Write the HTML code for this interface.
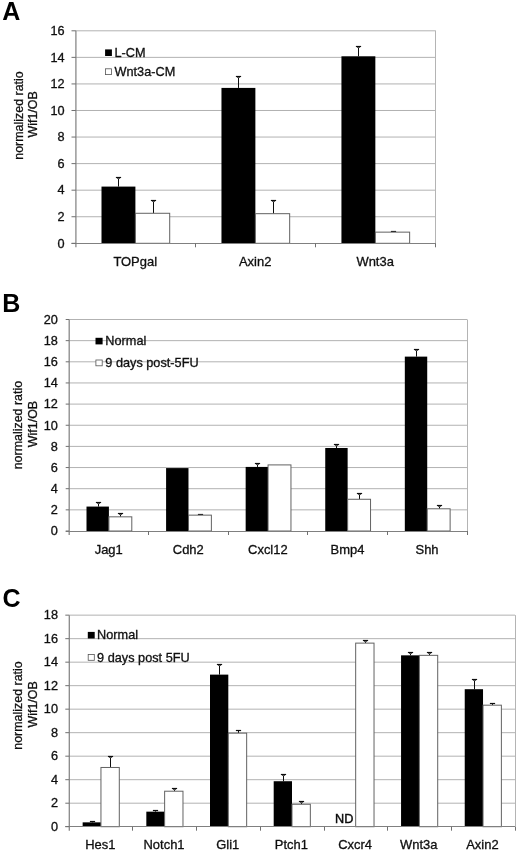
<!DOCTYPE html>
<html><head><meta charset="utf-8"><title>Figure</title>
<style>
html,body{margin:0;padding:0;background:#fff;}
body{width:520px;height:853px;overflow:hidden;}
svg{display:block;font-family:"Liberation Sans", sans-serif;}
</style></head>
<body>
<svg width="520" height="853" viewBox="0 0 520 853">
<defs><filter id="soft" x="0" y="0" width="520" height="853" filterUnits="userSpaceOnUse"><feGaussianBlur stdDeviation="0.4"/></filter></defs>
<rect x="0" y="0" width="520" height="853" fill="#fff"/>
<g filter="url(#soft)">
<rect x="0" y="0" width="520" height="853" fill="#fff"/>
<g id="panelA">
<line x1="75.90" y1="216.74" x2="435.81" y2="216.74" stroke="#b2b2b2" stroke-width="1"/>
<line x1="75.90" y1="190.18" x2="435.81" y2="190.18" stroke="#b2b2b2" stroke-width="1"/>
<line x1="75.90" y1="163.61" x2="435.81" y2="163.61" stroke="#b2b2b2" stroke-width="1"/>
<line x1="75.90" y1="137.05" x2="435.81" y2="137.05" stroke="#b2b2b2" stroke-width="1"/>
<line x1="75.90" y1="110.49" x2="435.81" y2="110.49" stroke="#b2b2b2" stroke-width="1"/>
<line x1="75.90" y1="83.93" x2="435.81" y2="83.93" stroke="#b2b2b2" stroke-width="1"/>
<line x1="75.90" y1="57.36" x2="435.81" y2="57.36" stroke="#b2b2b2" stroke-width="1"/>
<line x1="75.90" y1="30.80" x2="435.81" y2="30.80" stroke="#b2b2b2" stroke-width="1"/>
<line x1="435.50" y1="30.80" x2="435.50" y2="243.30" stroke="#b4b4b4" stroke-width="1"/>
<rect x="105.10" y="49.40" width="6.8" height="6.6" fill="#000"/>
<rect x="105.50" y="68.80" width="6.0" height="5.8" fill="#fff" stroke="#555" stroke-width="0.8"/>
<text transform="translate(114.50,56.90) scale(1.06,1)" font-size="12" text-anchor="start" fill="#111" stroke="#111" stroke-width="0.3">L-CM</text>
<text transform="translate(114.50,75.90) scale(1.06,1)" font-size="12" text-anchor="start" fill="#111" stroke="#111" stroke-width="0.3">Wnt3a-CM</text>
<line x1="118.50" y1="186.59" x2="118.50" y2="177.50" stroke="#111" stroke-width="1.05"/><line x1="115.90" y1="177.50" x2="121.10" y2="177.50" stroke="#111" stroke-width="1.2"/><line x1="117.00" y1="178.50" x2="120.00" y2="178.50" stroke="#555" stroke-width="1"/>
<rect x="101.50" y="186.59" width="33.90" height="56.71" fill="#000"/>
<line x1="153.50" y1="213.28" x2="153.50" y2="200.50" stroke="#111" stroke-width="1.05"/><line x1="150.90" y1="200.50" x2="156.10" y2="200.50" stroke="#111" stroke-width="1.2"/><line x1="152.00" y1="201.50" x2="155.00" y2="201.50" stroke="#555" stroke-width="1"/>
<rect x="135.40" y="213.28" width="34.30" height="30.02" fill="#fff" stroke="#626262" stroke-width="1"/>
<text transform="translate(135.19,265.70) scale(1.08,1)" font-size="12" text-anchor="middle" fill="#111" stroke="#111" stroke-width="0.3">TOPgal</text>
<line x1="238.50" y1="87.91" x2="238.50" y2="76.50" stroke="#111" stroke-width="1.05"/><line x1="235.90" y1="76.50" x2="241.10" y2="76.50" stroke="#111" stroke-width="1.2"/><line x1="237.00" y1="77.50" x2="240.00" y2="77.50" stroke="#555" stroke-width="1"/>
<rect x="221.47" y="87.91" width="33.90" height="155.39" fill="#000"/>
<line x1="273.50" y1="213.68" x2="273.50" y2="200.50" stroke="#111" stroke-width="1.05"/><line x1="270.90" y1="200.50" x2="276.10" y2="200.50" stroke="#111" stroke-width="1.2"/><line x1="272.00" y1="201.50" x2="275.00" y2="201.50" stroke="#555" stroke-width="1"/>
<rect x="255.37" y="213.68" width="34.30" height="29.62" fill="#fff" stroke="#626262" stroke-width="1"/>
<text transform="translate(255.16,265.70) scale(1.08,1)" font-size="12" text-anchor="middle" fill="#111" stroke="#111" stroke-width="0.3">Axin2</text>
<line x1="358.50" y1="56.30" x2="358.50" y2="46.50" stroke="#111" stroke-width="1.05"/><line x1="355.90" y1="46.50" x2="361.10" y2="46.50" stroke="#111" stroke-width="1.2"/><line x1="357.00" y1="47.50" x2="360.00" y2="47.50" stroke="#555" stroke-width="1"/>
<rect x="341.44" y="56.30" width="33.90" height="187.00" fill="#000"/>
<line x1="393.50" y1="232.14" x2="393.50" y2="231.50" stroke="#111" stroke-width="1.05"/><line x1="390.90" y1="231.50" x2="396.10" y2="231.50" stroke="#111" stroke-width="1.2"/>
<rect x="375.34" y="232.14" width="34.30" height="11.16" fill="#fff" stroke="#626262" stroke-width="1"/>
<text transform="translate(375.13,265.70) scale(1.08,1)" font-size="12" text-anchor="middle" fill="#111" stroke="#111" stroke-width="0.3">Wnt3a</text>
<line x1="75.90" y1="30.80" x2="75.90" y2="247.30" stroke="#888888" stroke-width="1.3"/>
<line x1="71.50" y1="243.50" x2="435.81" y2="243.50" stroke="#808080" stroke-width="1"/>
<line x1="71.50" y1="243.30" x2="75.90" y2="243.30" stroke="#707070" stroke-width="1"/>
<text transform="translate(64.60,247.60) scale(1.06,1)" font-size="12" text-anchor="end" fill="#111" stroke="#111" stroke-width="0.3">0</text>
<line x1="71.50" y1="216.74" x2="75.90" y2="216.74" stroke="#707070" stroke-width="1"/>
<text transform="translate(64.60,221.04) scale(1.06,1)" font-size="12" text-anchor="end" fill="#111" stroke="#111" stroke-width="0.3">2</text>
<line x1="71.50" y1="190.18" x2="75.90" y2="190.18" stroke="#707070" stroke-width="1"/>
<text transform="translate(64.60,194.48) scale(1.06,1)" font-size="12" text-anchor="end" fill="#111" stroke="#111" stroke-width="0.3">4</text>
<line x1="71.50" y1="163.61" x2="75.90" y2="163.61" stroke="#707070" stroke-width="1"/>
<text transform="translate(64.60,167.91) scale(1.06,1)" font-size="12" text-anchor="end" fill="#111" stroke="#111" stroke-width="0.3">6</text>
<line x1="71.50" y1="137.05" x2="75.90" y2="137.05" stroke="#707070" stroke-width="1"/>
<text transform="translate(64.60,141.35) scale(1.06,1)" font-size="12" text-anchor="end" fill="#111" stroke="#111" stroke-width="0.3">8</text>
<line x1="71.50" y1="110.49" x2="75.90" y2="110.49" stroke="#707070" stroke-width="1"/>
<text transform="translate(64.60,114.79) scale(1.06,1)" font-size="12" text-anchor="end" fill="#111" stroke="#111" stroke-width="0.3">10</text>
<line x1="71.50" y1="83.93" x2="75.90" y2="83.93" stroke="#707070" stroke-width="1"/>
<text transform="translate(64.60,88.23) scale(1.06,1)" font-size="12" text-anchor="end" fill="#111" stroke="#111" stroke-width="0.3">12</text>
<line x1="71.50" y1="57.36" x2="75.90" y2="57.36" stroke="#707070" stroke-width="1"/>
<text transform="translate(64.60,61.66) scale(1.06,1)" font-size="12" text-anchor="end" fill="#111" stroke="#111" stroke-width="0.3">14</text>
<line x1="71.50" y1="30.80" x2="75.90" y2="30.80" stroke="#707070" stroke-width="1"/>
<text transform="translate(64.60,35.10) scale(1.06,1)" font-size="12" text-anchor="end" fill="#111" stroke="#111" stroke-width="0.3">16</text>
<line x1="195.50" y1="243.30" x2="195.50" y2="247.30" stroke="#707070" stroke-width="1"/>
<line x1="315.50" y1="243.30" x2="315.50" y2="247.30" stroke="#707070" stroke-width="1"/>
<line x1="435.50" y1="243.30" x2="435.50" y2="247.30" stroke="#707070" stroke-width="1"/>
<text transform="translate(22.50,115.50) rotate(-90) scale(1.0,1)" font-size="12.45" text-anchor="middle" fill="#111" stroke="#111" stroke-width="0.3">normalized ratio</text>
<text transform="translate(37.30,114.40) rotate(-90) scale(1.0,1)" font-size="12.45" text-anchor="middle" fill="#111" stroke="#111" stroke-width="0.3">Wif1/OB</text>
<text transform="translate(2.30,19.60) scale(1.0,1)" font-size="25" text-anchor="start" fill="#000" font-weight="bold">A</text>
</g>
<g id="panelB">
<line x1="69.20" y1="509.85" x2="467.10" y2="509.85" stroke="#b2b2b2" stroke-width="1"/>
<line x1="69.20" y1="488.70" x2="467.10" y2="488.70" stroke="#b2b2b2" stroke-width="1"/>
<line x1="69.20" y1="467.55" x2="467.10" y2="467.55" stroke="#b2b2b2" stroke-width="1"/>
<line x1="69.20" y1="446.40" x2="467.10" y2="446.40" stroke="#b2b2b2" stroke-width="1"/>
<line x1="69.20" y1="425.25" x2="467.10" y2="425.25" stroke="#b2b2b2" stroke-width="1"/>
<line x1="69.20" y1="404.10" x2="467.10" y2="404.10" stroke="#b2b2b2" stroke-width="1"/>
<line x1="69.20" y1="382.95" x2="467.10" y2="382.95" stroke="#b2b2b2" stroke-width="1"/>
<line x1="69.20" y1="361.80" x2="467.10" y2="361.80" stroke="#b2b2b2" stroke-width="1"/>
<line x1="69.20" y1="340.65" x2="467.10" y2="340.65" stroke="#b2b2b2" stroke-width="1"/>
<line x1="69.20" y1="319.50" x2="467.10" y2="319.50" stroke="#b2b2b2" stroke-width="1"/>
<line x1="467.50" y1="319.50" x2="467.50" y2="531.00" stroke="#b4b4b4" stroke-width="1"/>
<rect x="95.50" y="337.80" width="7.1" height="6.6" fill="#000"/>
<rect x="95.90" y="360.00" width="6.3" height="5.8" fill="#fff" stroke="#555" stroke-width="0.8"/>
<text transform="translate(105.30,345.30) scale(1.06,1)" font-size="12" text-anchor="start" fill="#111" stroke="#111" stroke-width="0.3">Normal</text>
<text transform="translate(105.30,367.10) scale(1.06,1)" font-size="12" text-anchor="start" fill="#111" stroke="#111" stroke-width="0.3">9 days post-5FU</text>
<line x1="98.50" y1="506.57" x2="98.50" y2="502.50" stroke="#111" stroke-width="1.05"/><line x1="95.90" y1="502.50" x2="101.10" y2="502.50" stroke="#111" stroke-width="1.2"/><line x1="97.00" y1="503.50" x2="100.00" y2="503.50" stroke="#555" stroke-width="1"/>
<rect x="86.50" y="506.57" width="22.40" height="24.43" fill="#000"/>
<line x1="120.50" y1="516.83" x2="120.50" y2="513.50" stroke="#111" stroke-width="1.05"/><line x1="117.90" y1="513.50" x2="123.10" y2="513.50" stroke="#111" stroke-width="1.2"/><line x1="119.00" y1="514.50" x2="122.00" y2="514.50" stroke="#555" stroke-width="1"/>
<rect x="108.90" y="516.83" width="22.90" height="14.17" fill="#fff" stroke="#626262" stroke-width="1"/>
<text transform="translate(108.69,553.50) scale(1.08,1)" font-size="12" text-anchor="middle" fill="#111" stroke="#111" stroke-width="0.3">Jag1</text>
<rect x="166.08" y="468.08" width="22.40" height="62.92" fill="#000"/>
<line x1="200.50" y1="515.14" x2="200.50" y2="514.50" stroke="#111" stroke-width="1.05"/><line x1="197.90" y1="514.50" x2="203.10" y2="514.50" stroke="#111" stroke-width="1.2"/>
<rect x="188.48" y="515.14" width="22.90" height="15.86" fill="#fff" stroke="#626262" stroke-width="1"/>
<text transform="translate(188.27,553.50) scale(1.08,1)" font-size="12" text-anchor="middle" fill="#111" stroke="#111" stroke-width="0.3">Cdh2</text>
<line x1="257.50" y1="466.92" x2="257.50" y2="463.50" stroke="#111" stroke-width="1.05"/><line x1="254.90" y1="463.50" x2="260.10" y2="463.50" stroke="#111" stroke-width="1.2"/><line x1="256.00" y1="464.50" x2="259.00" y2="464.50" stroke="#555" stroke-width="1"/>
<rect x="245.66" y="466.92" width="22.40" height="64.08" fill="#000"/>
<rect x="268.06" y="464.91" width="22.90" height="66.09" fill="#fff" stroke="#626262" stroke-width="1"/>
<text transform="translate(267.85,553.50) scale(1.08,1)" font-size="12" text-anchor="middle" fill="#111" stroke="#111" stroke-width="0.3">Cxcl12</text>
<line x1="336.50" y1="447.99" x2="336.50" y2="444.50" stroke="#111" stroke-width="1.05"/><line x1="333.90" y1="444.50" x2="339.10" y2="444.50" stroke="#111" stroke-width="1.2"/><line x1="335.00" y1="445.50" x2="338.00" y2="445.50" stroke="#555" stroke-width="1"/>
<rect x="325.24" y="447.99" width="22.40" height="83.01" fill="#000"/>
<line x1="359.50" y1="499.27" x2="359.50" y2="493.50" stroke="#111" stroke-width="1.05"/><line x1="356.90" y1="493.50" x2="362.10" y2="493.50" stroke="#111" stroke-width="1.2"/><line x1="358.00" y1="494.50" x2="361.00" y2="494.50" stroke="#555" stroke-width="1"/>
<rect x="347.64" y="499.27" width="22.90" height="31.73" fill="#fff" stroke="#626262" stroke-width="1"/>
<text transform="translate(347.43,553.50) scale(1.08,1)" font-size="12" text-anchor="middle" fill="#111" stroke="#111" stroke-width="0.3">Bmp4</text>
<line x1="416.50" y1="356.62" x2="416.50" y2="349.50" stroke="#111" stroke-width="1.05"/><line x1="413.90" y1="349.50" x2="419.10" y2="349.50" stroke="#111" stroke-width="1.2"/><line x1="415.00" y1="350.50" x2="418.00" y2="350.50" stroke="#555" stroke-width="1"/>
<rect x="404.82" y="356.62" width="22.40" height="174.38" fill="#000"/>
<line x1="439.50" y1="508.79" x2="439.50" y2="505.50" stroke="#111" stroke-width="1.05"/><line x1="436.90" y1="505.50" x2="442.10" y2="505.50" stroke="#111" stroke-width="1.2"/><line x1="438.00" y1="506.50" x2="441.00" y2="506.50" stroke="#555" stroke-width="1"/>
<rect x="427.22" y="508.79" width="22.90" height="22.21" fill="#fff" stroke="#626262" stroke-width="1"/>
<text transform="translate(427.01,553.50) scale(1.08,1)" font-size="12" text-anchor="middle" fill="#111" stroke="#111" stroke-width="0.3">Shh</text>
<line x1="69.20" y1="319.50" x2="69.20" y2="535.00" stroke="#888888" stroke-width="1.3"/>
<line x1="65.70" y1="531.50" x2="467.10" y2="531.50" stroke="#808080" stroke-width="1"/>
<line x1="65.70" y1="531.00" x2="69.20" y2="531.00" stroke="#707070" stroke-width="1"/>
<text transform="translate(57.90,535.30) scale(1.06,1)" font-size="12" text-anchor="end" fill="#111" stroke="#111" stroke-width="0.3">0</text>
<line x1="65.70" y1="509.85" x2="69.20" y2="509.85" stroke="#707070" stroke-width="1"/>
<text transform="translate(57.90,514.15) scale(1.06,1)" font-size="12" text-anchor="end" fill="#111" stroke="#111" stroke-width="0.3">2</text>
<line x1="65.70" y1="488.70" x2="69.20" y2="488.70" stroke="#707070" stroke-width="1"/>
<text transform="translate(57.90,493.00) scale(1.06,1)" font-size="12" text-anchor="end" fill="#111" stroke="#111" stroke-width="0.3">4</text>
<line x1="65.70" y1="467.55" x2="69.20" y2="467.55" stroke="#707070" stroke-width="1"/>
<text transform="translate(57.90,471.85) scale(1.06,1)" font-size="12" text-anchor="end" fill="#111" stroke="#111" stroke-width="0.3">6</text>
<line x1="65.70" y1="446.40" x2="69.20" y2="446.40" stroke="#707070" stroke-width="1"/>
<text transform="translate(57.90,450.70) scale(1.06,1)" font-size="12" text-anchor="end" fill="#111" stroke="#111" stroke-width="0.3">8</text>
<line x1="65.70" y1="425.25" x2="69.20" y2="425.25" stroke="#707070" stroke-width="1"/>
<text transform="translate(57.90,429.55) scale(1.06,1)" font-size="12" text-anchor="end" fill="#111" stroke="#111" stroke-width="0.3">10</text>
<line x1="65.70" y1="404.10" x2="69.20" y2="404.10" stroke="#707070" stroke-width="1"/>
<text transform="translate(57.90,408.40) scale(1.06,1)" font-size="12" text-anchor="end" fill="#111" stroke="#111" stroke-width="0.3">12</text>
<line x1="65.70" y1="382.95" x2="69.20" y2="382.95" stroke="#707070" stroke-width="1"/>
<text transform="translate(57.90,387.25) scale(1.06,1)" font-size="12" text-anchor="end" fill="#111" stroke="#111" stroke-width="0.3">14</text>
<line x1="65.70" y1="361.80" x2="69.20" y2="361.80" stroke="#707070" stroke-width="1"/>
<text transform="translate(57.90,366.10) scale(1.06,1)" font-size="12" text-anchor="end" fill="#111" stroke="#111" stroke-width="0.3">16</text>
<line x1="65.70" y1="340.65" x2="69.20" y2="340.65" stroke="#707070" stroke-width="1"/>
<text transform="translate(57.90,344.95) scale(1.06,1)" font-size="12" text-anchor="end" fill="#111" stroke="#111" stroke-width="0.3">18</text>
<line x1="65.70" y1="319.50" x2="69.20" y2="319.50" stroke="#707070" stroke-width="1"/>
<text transform="translate(57.90,323.80) scale(1.06,1)" font-size="12" text-anchor="end" fill="#111" stroke="#111" stroke-width="0.3">20</text>
<line x1="148.50" y1="531.00" x2="148.50" y2="535.00" stroke="#707070" stroke-width="1"/>
<line x1="228.50" y1="531.00" x2="228.50" y2="535.00" stroke="#707070" stroke-width="1"/>
<line x1="307.50" y1="531.00" x2="307.50" y2="535.00" stroke="#707070" stroke-width="1"/>
<line x1="387.50" y1="531.00" x2="387.50" y2="535.00" stroke="#707070" stroke-width="1"/>
<line x1="467.50" y1="531.00" x2="467.50" y2="535.00" stroke="#707070" stroke-width="1"/>
<text transform="translate(22.20,425.10) rotate(-90) scale(1.0,1)" font-size="12.45" text-anchor="middle" fill="#111" stroke="#111" stroke-width="0.3">normalized ratio</text>
<text transform="translate(37.30,424.00) rotate(-90) scale(1.0,1)" font-size="12.45" text-anchor="middle" fill="#111" stroke="#111" stroke-width="0.3">Wif1/OB</text>
<text transform="translate(2.20,311.90) scale(1.0,1)" font-size="25" text-anchor="start" fill="#000" font-weight="bold">B</text>
</g>
<g id="panelC">
<line x1="69.30" y1="803.19" x2="515.06" y2="803.19" stroke="#b2b2b2" stroke-width="1"/>
<line x1="69.30" y1="779.69" x2="515.06" y2="779.69" stroke="#b2b2b2" stroke-width="1"/>
<line x1="69.30" y1="756.18" x2="515.06" y2="756.18" stroke="#b2b2b2" stroke-width="1"/>
<line x1="69.30" y1="732.68" x2="515.06" y2="732.68" stroke="#b2b2b2" stroke-width="1"/>
<line x1="69.30" y1="709.17" x2="515.06" y2="709.17" stroke="#b2b2b2" stroke-width="1"/>
<line x1="69.30" y1="685.67" x2="515.06" y2="685.67" stroke="#b2b2b2" stroke-width="1"/>
<line x1="69.30" y1="662.16" x2="515.06" y2="662.16" stroke="#b2b2b2" stroke-width="1"/>
<line x1="69.30" y1="638.66" x2="515.06" y2="638.66" stroke="#b2b2b2" stroke-width="1"/>
<line x1="69.30" y1="615.15" x2="515.06" y2="615.15" stroke="#b2b2b2" stroke-width="1"/>
<line x1="515.50" y1="615.15" x2="515.50" y2="826.70" stroke="#b4b4b4" stroke-width="1"/>
<rect x="87.80" y="631.90" width="6.9" height="6.6" fill="#000"/>
<rect x="88.20" y="654.50" width="6.1000000000000005" height="5.8" fill="#fff" stroke="#555" stroke-width="0.8"/>
<text transform="translate(97.10,639.40) scale(1.06,1)" font-size="12" text-anchor="start" fill="#111" stroke="#111" stroke-width="0.3">Normal</text>
<text transform="translate(97.10,661.60) scale(1.06,1)" font-size="12" text-anchor="start" fill="#111" stroke="#111" stroke-width="0.3">9 days post 5FU</text>
<line x1="92.50" y1="822.35" x2="92.50" y2="821.50" stroke="#111" stroke-width="1.05"/><line x1="89.90" y1="821.50" x2="95.10" y2="821.50" stroke="#111" stroke-width="1.2"/>
<rect x="82.65" y="822.35" width="18.30" height="4.35" fill="#000"/>
<line x1="110.50" y1="767.47" x2="110.50" y2="756.50" stroke="#111" stroke-width="1.05"/><line x1="107.90" y1="756.50" x2="113.10" y2="756.50" stroke="#111" stroke-width="1.2"/><line x1="109.00" y1="757.50" x2="112.00" y2="757.50" stroke="#555" stroke-width="1"/>
<rect x="100.95" y="767.47" width="18.35" height="59.23" fill="#fff" stroke="#626262" stroke-width="1"/>
<text transform="translate(100.34,848.50) scale(1.08,1)" font-size="12" text-anchor="middle" fill="#111" stroke="#111" stroke-width="0.3">Hes1</text>
<line x1="155.50" y1="811.66" x2="155.50" y2="810.50" stroke="#111" stroke-width="1.05"/><line x1="152.90" y1="810.50" x2="158.10" y2="810.50" stroke="#111" stroke-width="1.2"/>
<rect x="146.33" y="811.66" width="18.30" height="15.04" fill="#000"/>
<line x1="174.50" y1="791.21" x2="174.50" y2="788.50" stroke="#111" stroke-width="1.05"/><line x1="171.90" y1="788.50" x2="177.10" y2="788.50" stroke="#111" stroke-width="1.2"/><line x1="173.00" y1="789.50" x2="176.00" y2="789.50" stroke="#555" stroke-width="1"/>
<rect x="164.63" y="791.21" width="18.35" height="35.49" fill="#fff" stroke="#626262" stroke-width="1"/>
<text transform="translate(164.02,848.50) scale(1.08,1)" font-size="12" text-anchor="middle" fill="#111" stroke="#111" stroke-width="0.3">Notch1</text>
<line x1="219.50" y1="674.62" x2="219.50" y2="664.50" stroke="#111" stroke-width="1.05"/><line x1="216.90" y1="664.50" x2="222.10" y2="664.50" stroke="#111" stroke-width="1.2"/><line x1="218.00" y1="665.50" x2="221.00" y2="665.50" stroke="#555" stroke-width="1"/>
<rect x="210.01" y="674.62" width="18.30" height="152.08" fill="#000"/>
<line x1="238.50" y1="733.15" x2="238.50" y2="730.50" stroke="#111" stroke-width="1.05"/><line x1="235.90" y1="730.50" x2="241.10" y2="730.50" stroke="#111" stroke-width="1.2"/>
<rect x="228.31" y="733.15" width="18.35" height="93.55" fill="#fff" stroke="#626262" stroke-width="1"/>
<text transform="translate(227.70,848.50) scale(1.08,1)" font-size="12" text-anchor="middle" fill="#111" stroke="#111" stroke-width="0.3">Gli1</text>
<line x1="283.50" y1="781.22" x2="283.50" y2="774.50" stroke="#111" stroke-width="1.05"/><line x1="280.90" y1="774.50" x2="286.10" y2="774.50" stroke="#111" stroke-width="1.2"/><line x1="282.00" y1="775.50" x2="285.00" y2="775.50" stroke="#555" stroke-width="1"/>
<rect x="273.69" y="781.22" width="18.30" height="45.48" fill="#000"/>
<line x1="301.50" y1="804.25" x2="301.50" y2="801.50" stroke="#111" stroke-width="1.05"/><line x1="298.90" y1="801.50" x2="304.10" y2="801.50" stroke="#111" stroke-width="1.2"/><line x1="300.00" y1="802.50" x2="303.00" y2="802.50" stroke="#555" stroke-width="1"/>
<rect x="291.99" y="804.25" width="18.35" height="22.45" fill="#fff" stroke="#626262" stroke-width="1"/>
<text transform="translate(291.38,848.50) scale(1.08,1)" font-size="12" text-anchor="middle" fill="#111" stroke="#111" stroke-width="0.3">Ptch1</text>
<line x1="365.50" y1="643.12" x2="365.50" y2="640.50" stroke="#111" stroke-width="1.05"/><line x1="362.90" y1="640.50" x2="368.10" y2="640.50" stroke="#111" stroke-width="1.2"/><line x1="364.00" y1="641.50" x2="367.00" y2="641.50" stroke="#555" stroke-width="1"/>
<rect x="355.67" y="643.12" width="18.35" height="183.58" fill="#fff" stroke="#626262" stroke-width="1"/>
<text transform="translate(355.06,848.50) scale(1.08,1)" font-size="12" text-anchor="middle" fill="#111" stroke="#111" stroke-width="0.3">Cxcr4</text>
<line x1="410.50" y1="655.34" x2="410.50" y2="652.50" stroke="#111" stroke-width="1.05"/><line x1="407.90" y1="652.50" x2="413.10" y2="652.50" stroke="#111" stroke-width="1.2"/><line x1="409.00" y1="653.50" x2="412.00" y2="653.50" stroke="#555" stroke-width="1"/>
<rect x="401.05" y="655.34" width="18.30" height="171.36" fill="#000"/>
<line x1="429.50" y1="655.34" x2="429.50" y2="652.50" stroke="#111" stroke-width="1.05"/><line x1="426.90" y1="652.50" x2="432.10" y2="652.50" stroke="#111" stroke-width="1.2"/><line x1="428.00" y1="653.50" x2="431.00" y2="653.50" stroke="#555" stroke-width="1"/>
<rect x="419.35" y="655.34" width="18.35" height="171.36" fill="#fff" stroke="#626262" stroke-width="1"/>
<text transform="translate(418.74,848.50) scale(1.08,1)" font-size="12" text-anchor="middle" fill="#111" stroke="#111" stroke-width="0.3">Wnt3a</text>
<line x1="474.50" y1="689.19" x2="474.50" y2="679.50" stroke="#111" stroke-width="1.05"/><line x1="471.90" y1="679.50" x2="477.10" y2="679.50" stroke="#111" stroke-width="1.2"/><line x1="473.00" y1="680.50" x2="476.00" y2="680.50" stroke="#555" stroke-width="1"/>
<rect x="464.73" y="689.19" width="18.30" height="137.51" fill="#000"/>
<line x1="492.50" y1="705.18" x2="492.50" y2="703.50" stroke="#111" stroke-width="1.05"/><line x1="489.90" y1="703.50" x2="495.10" y2="703.50" stroke="#111" stroke-width="1.2"/>
<rect x="483.03" y="705.18" width="18.35" height="121.52" fill="#fff" stroke="#626262" stroke-width="1"/>
<text transform="translate(482.42,848.50) scale(1.08,1)" font-size="12" text-anchor="middle" fill="#111" stroke="#111" stroke-width="0.3">Axin2</text>
<line x1="69.30" y1="615.15" x2="69.30" y2="830.70" stroke="#888888" stroke-width="1.3"/>
<line x1="65.30" y1="826.50" x2="515.06" y2="826.50" stroke="#808080" stroke-width="1"/>
<line x1="65.30" y1="826.70" x2="69.30" y2="826.70" stroke="#707070" stroke-width="1"/>
<text transform="translate(58.00,831.00) scale(1.06,1)" font-size="12" text-anchor="end" fill="#111" stroke="#111" stroke-width="0.3">0</text>
<line x1="65.30" y1="803.19" x2="69.30" y2="803.19" stroke="#707070" stroke-width="1"/>
<text transform="translate(58.00,807.49) scale(1.06,1)" font-size="12" text-anchor="end" fill="#111" stroke="#111" stroke-width="0.3">2</text>
<line x1="65.30" y1="779.69" x2="69.30" y2="779.69" stroke="#707070" stroke-width="1"/>
<text transform="translate(58.00,783.99) scale(1.06,1)" font-size="12" text-anchor="end" fill="#111" stroke="#111" stroke-width="0.3">4</text>
<line x1="65.30" y1="756.18" x2="69.30" y2="756.18" stroke="#707070" stroke-width="1"/>
<text transform="translate(58.00,760.48) scale(1.06,1)" font-size="12" text-anchor="end" fill="#111" stroke="#111" stroke-width="0.3">6</text>
<line x1="65.30" y1="732.68" x2="69.30" y2="732.68" stroke="#707070" stroke-width="1"/>
<text transform="translate(58.00,736.98) scale(1.06,1)" font-size="12" text-anchor="end" fill="#111" stroke="#111" stroke-width="0.3">8</text>
<line x1="65.30" y1="709.17" x2="69.30" y2="709.17" stroke="#707070" stroke-width="1"/>
<text transform="translate(58.00,713.47) scale(1.06,1)" font-size="12" text-anchor="end" fill="#111" stroke="#111" stroke-width="0.3">10</text>
<line x1="65.30" y1="685.67" x2="69.30" y2="685.67" stroke="#707070" stroke-width="1"/>
<text transform="translate(58.00,689.97) scale(1.06,1)" font-size="12" text-anchor="end" fill="#111" stroke="#111" stroke-width="0.3">12</text>
<line x1="65.30" y1="662.16" x2="69.30" y2="662.16" stroke="#707070" stroke-width="1"/>
<text transform="translate(58.00,666.46) scale(1.06,1)" font-size="12" text-anchor="end" fill="#111" stroke="#111" stroke-width="0.3">14</text>
<line x1="65.30" y1="638.66" x2="69.30" y2="638.66" stroke="#707070" stroke-width="1"/>
<text transform="translate(58.00,642.96) scale(1.06,1)" font-size="12" text-anchor="end" fill="#111" stroke="#111" stroke-width="0.3">16</text>
<line x1="65.30" y1="615.15" x2="69.30" y2="615.15" stroke="#707070" stroke-width="1"/>
<text transform="translate(58.00,619.45) scale(1.06,1)" font-size="12" text-anchor="end" fill="#111" stroke="#111" stroke-width="0.3">18</text>
<line x1="132.50" y1="826.70" x2="132.50" y2="830.70" stroke="#707070" stroke-width="1"/>
<line x1="196.50" y1="826.70" x2="196.50" y2="830.70" stroke="#707070" stroke-width="1"/>
<line x1="260.50" y1="826.70" x2="260.50" y2="830.70" stroke="#707070" stroke-width="1"/>
<line x1="324.50" y1="826.70" x2="324.50" y2="830.70" stroke="#707070" stroke-width="1"/>
<line x1="387.50" y1="826.70" x2="387.50" y2="830.70" stroke="#707070" stroke-width="1"/>
<line x1="451.50" y1="826.70" x2="451.50" y2="830.70" stroke="#707070" stroke-width="1"/>
<line x1="515.50" y1="826.70" x2="515.50" y2="830.70" stroke="#707070" stroke-width="1"/>
<text transform="translate(21.90,705.50) rotate(-90) scale(1.0,1)" font-size="12.45" text-anchor="middle" fill="#111" stroke="#111" stroke-width="0.3">normalized ratio</text>
<text transform="translate(37.00,704.40) rotate(-90) scale(1.0,1)" font-size="12.45" text-anchor="middle" fill="#111" stroke="#111" stroke-width="0.3">Wif1/OB</text>
<text transform="translate(2.50,607.00) scale(1.0,1)" font-size="25" text-anchor="start" fill="#000" font-weight="bold">C</text>
<text transform="translate(335.00,822.90) scale(1.06,1)" font-size="12" text-anchor="start" fill="#000" stroke="#111" stroke-width="0.4">ND</text>
</g>
</g>
</svg>
</body></html>
